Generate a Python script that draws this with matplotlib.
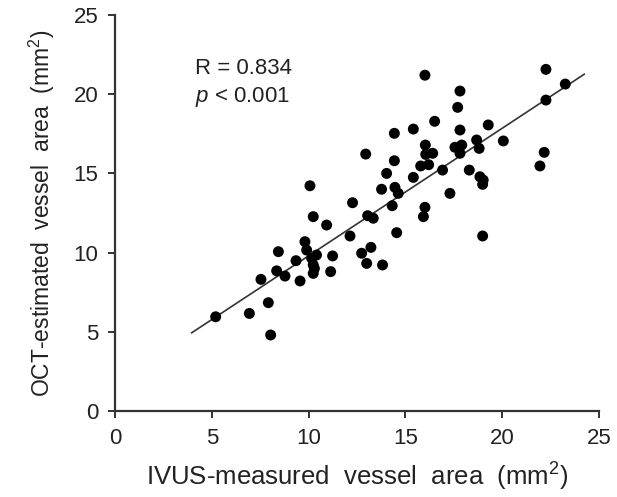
import matplotlib
matplotlib.use("Agg")
import matplotlib.pyplot as plt
import numpy as np

plt.rcParams['font.family'] = ['Liberation Sans', 'DejaVu Sans']
plt.rcParams['mathtext.fontset'] = 'custom'
plt.rcParams['mathtext.rm'] = 'Liberation Sans'
plt.rcParams['mathtext.it'] = 'Liberation Sans:italic'

ivus = [16.01, 22.26, 23.26, 22.26, 17.82, 17.70, 16.51, 15.41, 14.43, 17.82,
        19.28, 16.03, 16.05, 16.41, 17.56, 17.91, 17.82, 18.68, 18.81, 20.06,
        22.17, 21.95, 12.95, 14.43, 15.79, 16.20, 16.92, 18.30, 14.03, 15.41,
        18.85, 19.02, 18.99, 13.77, 14.46, 14.63, 17.30, 12.27, 14.32, 16.01,
        15.93, 13.05, 13.34, 10.93, 12.14, 14.55, 18.99, 13.22, 12.74, 11.24,
        10.07, 10.24, 9.81, 8.44, 9.90, 9.35, 10.16, 10.41, 10.24, 10.24,
        10.30, 13.00, 13.82, 11.14, 8.35, 8.78, 7.54, 9.56, 7.92, 6.94,
        5.20, 8.04]
oct_ = [21.20, 21.57, 20.64, 19.63, 20.20, 19.17, 18.29, 17.80, 17.53, 17.74,
        18.06, 16.79, 16.20, 16.27, 16.65, 16.79, 16.27, 17.11, 16.58, 17.05,
        16.33, 15.47, 16.22, 15.80, 15.47, 15.55, 15.21, 15.21, 15.00, 14.75,
        14.79, 14.58, 14.31, 14.00, 14.12, 13.74, 13.74, 13.15, 12.96, 12.86,
        12.27, 12.33, 12.17, 11.74, 11.05, 11.26, 11.05, 10.33, 9.96, 9.79,
        14.22, 12.27, 10.69, 10.06, 10.16, 9.49, 9.64, 9.85, 9.22, 8.69,
        9.00, 9.32, 9.22, 8.80, 8.85, 8.52, 8.31, 8.21, 6.84, 6.16,
        5.95, 4.80]

fit_slope = 0.805
fit_intercept = 1.75
fit_x = [3.96, 24.24]

ticks = [0, 5, 10, 15, 20, 25]

fig = plt.figure(figsize=(6.17, 4.97), dpi=100)
ax = fig.add_axes([0.1864, 0.173, 0.7844, 0.7968])

ax.scatter(ivus, oct_, s=62, color='black', edgecolors='none', zorder=3)
fx = np.array(fit_x)
ax.plot(fx, fit_intercept + fit_slope * fx, color='#333333', lw=1.2, zorder=2)

ax.set_xlim(0, 25)
ax.set_ylim(0, 25)
ax.set_xticks(ticks)
ax.set_yticks(ticks)
for s in ['top', 'right']:
    ax.spines[s].set_visible(False)
for s in ['left', 'bottom']:
    ax.spines[s].set_linewidth(1.6)
    ax.spines[s].set_color('#333333')
ax.tick_params(direction='out', length=5, width=1.4, color='#333333',
               labelsize=16, pad=7, labelcolor='#222222')

ax.set_xlabel('IVUS-measured  vessel  area  (mm$^2$)', fontsize=18.5,
              color='#222222', labelpad=9)
ax.set_ylabel('OCT-estimated  vessel  area  (mm$^2$)', fontsize=16.5,
              color='#222222', labelpad=12)

ax.text(4.13, 21.3, 'R = 0.834', fontsize=16, color='#222222', va='baseline')
ax.text(4.13, 19.5, '$p$ < 0.001', fontsize=16, color='#222222', va='baseline')

fig.savefig('out.png', dpi=100)
